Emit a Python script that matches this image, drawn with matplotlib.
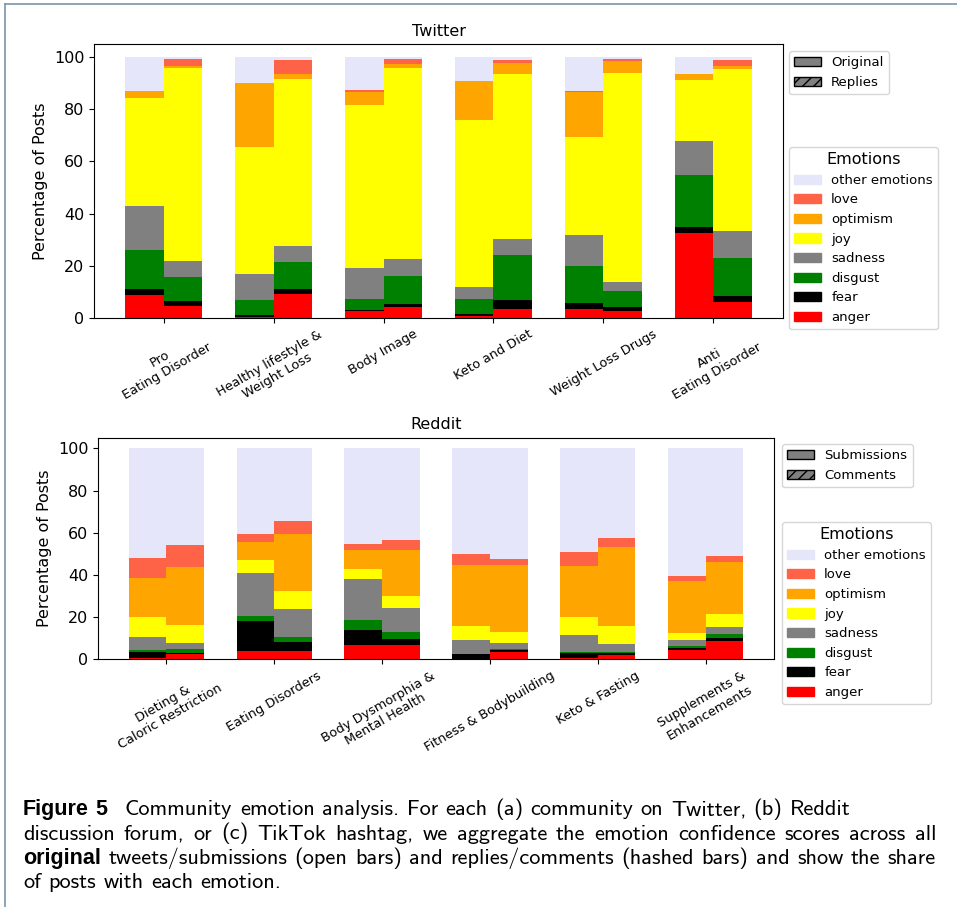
import matplotlib.pyplot as plt
import numpy as np
from matplotlib.patches import Patch
from matplotlib.lines import Line2D

# stack order, bottom to top
emotions = ['anger', 'fear', 'disgust', 'sadness', 'joy', 'optimism', 'love', 'other emotions']
colors = ['red', 'black', 'green', 'gray', 'yellow', 'orange', 'tomato', 'lavender']

twitter_labels = ['Pro\nEating Disorder', 'Healthy lifestyle &\nWeight Loss', 'Body Image',
                  'Keto and Diet', 'Weight Loss Drugs', 'Anti\nEating Disorder']
reddit_labels = ['Dieting &\nCaloric Restriction', 'Eating Disorders',
                 'Body Dysmorphia &\nMental Health', 'Fitness & Bodybuilding',
                 'Keto & Fasting', 'Supplements &\nEnhancements']

# one row per community: anger, fear, disgust, sadness, joy, optimism, love, other
twitter_original = [
    [8.7, 2.3, 15.0, 16.9, 41.5, 2.7, 0.0, 12.9],
    [0.3, 0.7, 5.8, 10.0, 48.9, 24.2, 0.0, 10.1],
    [2.6, 0.4, 4.2, 11.9, 62.7, 4.9, 0.7, 12.6],
    [0.6, 0.8, 5.8, 4.6, 64.1, 15.0, 0.0, 9.1],
    [3.4, 2.3, 14.2, 11.9, 37.6, 17.3, 0.4, 12.9],
    [32.5, 2.3, 20.0, 13.1, 23.4, 2.3, 0.0, 6.4],
]
twitter_replies = [
    [4.5, 1.9, 9.2, 6.2, 74.1, 0.7, 2.7, 0.7],
    [9.1, 1.9, 10.4, 6.1, 64.2, 1.9, 5.4, 1.0],
    [4.1, 1.2, 10.7, 6.6, 73.3, 1.5, 1.9, 0.7],
    [3.4, 3.4, 17.3, 6.1, 63.4, 4.2, 1.2, 1.0],
    [2.6, 1.5, 6.2, 3.4, 80.3, 4.6, 0.7, 0.7],
    [6.0, 2.3, 14.6, 10.4, 62.2, 1.1, 2.4, 1.0],
]
reddit_submissions = [
    [0.6, 2.9, 0.9, 6.2, 9.4, 18.5, 9.5, 52.0],
    [3.9, 14.2, 2.4, 20.5, 6.1, 8.5, 3.8, 40.6],
    [6.8, 7.1, 4.7, 19.5, 4.7, 9.0, 2.8, 45.4],
    [0.3, 2.2, 0.1, 6.7, 6.6, 28.9, 5.2, 50.1],
    [0.5, 2.5, 0.5, 8.0, 8.5, 24.2, 6.7, 49.1],
    [4.4, 1.0, 0.9, 2.9, 3.3, 24.6, 2.4, 60.5],
]
reddit_comments = [
    [2.5, 0.5, 1.9, 2.8, 8.6, 27.4, 10.5, 45.8],
    [3.9, 4.3, 2.4, 13.2, 8.6, 27.0, 6.1, 34.5],
    [6.8, 2.8, 3.3, 11.4, 5.7, 21.8, 4.7, 43.5],
    [3.5, 0.9, 0.5, 2.8, 5.2, 31.8, 2.8, 52.5],
    [2.0, 1.0, 0.5, 3.8, 8.5, 37.4, 4.3, 42.5],
    [8.7, 1.4, 1.9, 3.3, 6.2, 24.7, 2.8, 51.0],
]

W, H = 957, 907
fig = plt.figure(figsize=(W / 100, H / 100), dpi=100)


def box(l, t, r, b):
    return [l / W, 1 - b / H, (r - l) / W, (b - t) / H]


def stacked(ax, first, second, labels, title):
    a = np.array(first).T
    b = np.array(second).T
    x = np.arange(len(labels))
    w = 0.35
    bot_a = np.zeros(len(labels))
    bot_b = np.zeros(len(labels))
    for vals_a, vals_b, col in zip(a, b, colors):
        ax.bar(x - w / 2, vals_a, w, bottom=bot_a, color=col)
        ax.bar(x + w / 2, vals_b, w, bottom=bot_b, color=col)
        bot_a += vals_a
        bot_b += vals_b
    ax.set_xticks(x)
    ax.set_xticklabels(labels, rotation=30, fontsize=9.3)
    ax.tick_params(axis='y', labelsize=11.5)
    ax.set_ylabel('Percentage of Posts', fontsize=11.5)
    ax.set_title(title, fontsize=11.5)


def legends(kinds, anchor1, anchor2):
    h1 = [Patch(facecolor='gray', edgecolor='black', label=kinds[0]),
          Patch(facecolor='gray', edgecolor='black', hatch='///', label=kinds[1])]
    fig.legend(handles=h1, loc='upper left', borderaxespad=0, fontsize=9.5,
               bbox_to_anchor=(anchor1[0] / W, 1 - anchor1[1] / H))
    h2 = [Patch(color=c, label=e) for e, c in zip(emotions[::-1], colors[::-1])]
    fig.legend(handles=h2, loc='upper left', borderaxespad=0, fontsize=9.5,
               title='Emotions', title_fontsize=11.5,
               bbox_to_anchor=(anchor2[0] / W, 1 - anchor2[1] / H))


ax1 = fig.add_axes(box(94, 44, 783, 318))
stacked(ax1, twitter_original, twitter_replies, twitter_labels, 'Twitter')
legends(['Original', 'Replies'], (789, 51), (789, 147))

ax2 = fig.add_axes(box(98, 437.7, 774, 659.3))
stacked(ax2, reddit_submissions, reddit_comments, reddit_labels, 'Reddit')
legends(['Submissions', 'Comments'], (782, 444), (782, 522))

# page frame
frame = '#7d95ad'
fig.add_artist(Line2D([5 / W, 5 / W], [0, 1 - 4 / H], color=frame, lw=1.2))
fig.add_artist(Line2D([5 / W, 1], [1 - 4 / H, 1 - 4 / H], color=frame, lw=1.2))

# caption, set word by word so lines 2-3 can be justified
renderer = fig.canvas.get_renderer()
reg = dict(family='cmss10')
bold = dict(family=['Liberation Sans', 'DejaVu Sans'], weight='bold')


def width(s, size, props):
    t = fig.text(0, 0, s, fontsize=size, **props)
    wd = t.get_window_extent(renderer).width
    t.remove()
    return wd


first_line = 'Community emotion analysis. For each (a) community on Twitter, (b) Reddit'
size = 16.1
bsize = size * 84 / width('Figure 5', size, bold)
space = 0.333 * size * 100 / 72

lines = [
    [('Figure', True), ('5', True)] + [(w, False) for w in first_line.split(' ')],
    [(w, False) for w in 'discussion forum, or (c) TikTok hashtag, we aggregate the emotion '
                         'confidence scores across all'.split(' ')],
    [('original', True)] + [(w, False) for w in 'tweets/submissions (open bars) and '
                            'replies/comments (hashed bars) and show the share'.split(' ')],
    [(w, False) for w in 'of posts with each emotion.'.split(' ')],
]
justify = [False, True, True, False]
baselines = [815, 839.5, 864, 888.5]
x_left, x_right = 23, 936

for words, just, yb in zip(lines, justify, baselines):
    sizes = [bsize if b else size for _, b in words]
    widths = [width(w, s, bold if b else reg) for (w, b), s in zip(words, sizes)]
    gaps = [space] * (len(words) - 1)
    if words[0][0] == 'Figure':
        gaps[0] = space * 0.9
        gaps[1] = x_left + 102 - (x_left + widths[0] + gaps[0] + widths[1])
    if just:
        extra = (x_right - x_left) - sum(widths) - sum(gaps)
        gaps = [g + extra / len(gaps) for g in gaps]
    x = x_left
    for i, ((w, b), s, wpx) in enumerate(zip(words, sizes, widths)):
        fig.text(x / W, 1 - yb / H, w, fontsize=s, va='baseline',
                 **(bold if b else reg))
        x += wpx + (gaps[i] if i < len(gaps) else 0)

fig.savefig('out.png', dpi=100)
